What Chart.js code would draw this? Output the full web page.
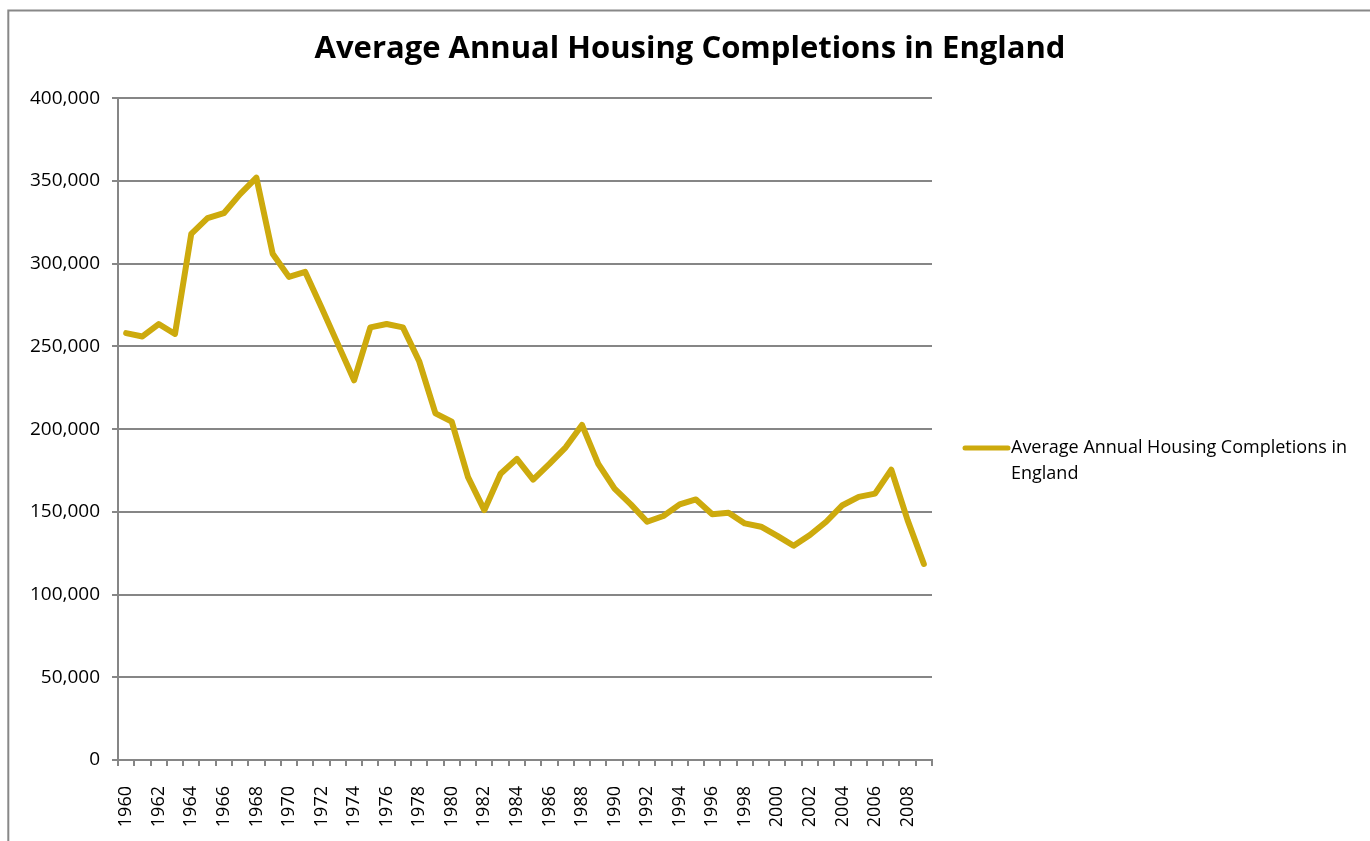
<!DOCTYPE html>
<html>
<head>
<meta charset="utf-8">
<script src="https://cdn.jsdelivr.net/npm/chart.js@4.4.0/dist/chart.umd.min.js"></script>
<style>
  html, body { margin: 0; padding: 0; background: #fff; overflow: hidden; }
  canvas { display: block; }
</style>
</head>
<body>
<canvas id="c" width="1370" height="841"></canvas>
<script>
// Completed dwellings per year, England
const years = [
  '1960','1961','1962','1963','1964','1965','1966','1967','1968','1969',
  '1970','1971','1972','1973','1974','1975','1976','1977','1978','1979',
  '1980','1981','1982','1983','1984','1985','1986','1987','1988','1989',
  '1990','1991','1992','1993','1994','1995','1996','1997','1998','1999',
  '2000','2001','2002','2003','2004','2005','2006','2007','2008','2009'
];
const completions = [
  258000, 256000, 263500, 257500, 318000, 327500, 330500, 342000, 352000, 306000,
  292000, 295000, 273500, 251500, 229500, 261500, 263500, 261500, 241000, 209500,
  204500, 171000, 151000, 173000, 182000, 169500, 179000, 189000, 202500, 179000,
  164000, 154500, 144000, 147500, 154500, 157500, 148500, 149500, 143000, 141000,
  135500, 129500, 136000, 144000, 154000, 159000, 161000, 175500, 145000, 118500
];
const yMin = 0;
const yMax = 400000;
const yStep = 50000;
const chartTitle = 'Average Annual Housing Completions in England';
const seriesName = 'Average Annual Housing Completions in England';
const legendLines = ['Average Annual Housing Completions in', 'England'];

const lineColor = '#CDAA0D';
const axisColor = '#868686';
const fontFamily = "'Open Sans', 'Liberation Sans', sans-serif";

// Outer chart frame (left and top edges)
const framePlugin = {
  id: 'frame',
  beforeDraw(chart) {
    const ctx = chart.ctx;
    ctx.save();
    ctx.fillStyle = '#fff';
    ctx.fillRect(0, 0, chart.width, chart.height);
    ctx.strokeStyle = '#888';
    ctx.lineWidth = 2;
    ctx.beginPath();
    ctx.moveTo(8.3, chart.height);
    ctx.lineTo(8.3, 10.5);
    ctx.lineTo(chart.width, 10.5);
    ctx.stroke();
    ctx.restore();
  }
};

// Legend on the right, with the series name wrapped over two lines
const sideLegend = {
  id: 'sideLegend',
  afterDraw(chart) {
    const ds = chart.data.datasets[0];
    const area = chart.chartArea;
    const ctx = chart.ctx;
    const x0 = area.right + 31;
    const yc = (area.top + area.bottom) / 2 + 19;
    ctx.save();
    ctx.strokeStyle = ds.borderColor;
    ctx.lineWidth = 5;
    ctx.lineCap = 'round';
    ctx.beginPath();
    ctx.moveTo(x0 + 2, yc);
    ctx.lineTo(x0 + 45, yc);
    ctx.stroke();
    ctx.fillStyle = '#000';
    ctx.font = '18px ' + fontFamily;
    ctx.textBaseline = 'middle';
    ctx.textAlign = 'left';
    legendLines.forEach((t, i) => ctx.fillText(t, x0 + 48, yc + i * 26));
    ctx.restore();
  }
};

new Chart(document.getElementById('c'), {
  type: 'line',
  data: {
    labels: years,
    datasets: [{
      label: seriesName,
      data: completions,
      borderColor: lineColor,
      backgroundColor: lineColor,
      borderWidth: 6,
      borderJoinStyle: 'round',
      borderCapStyle: 'round',
      tension: 0,
      pointRadius: 0,
      fill: false
    }]
  },
  options: {
    responsive: false,
    animation: false,
    devicePixelRatio: 1,
    layout: { padding: { left: 10, right: 0, top: 0, bottom: 0 } },
    plugins: {
      legend: { display: false },
      tooltip: { enabled: false },
      title: {
        display: true,
        text: chartTitle,
        color: '#000',
        font: { family: fontFamily, size: 31, weight: 'bold' },
        padding: { top: 31, bottom: 30 }
      }
    },
    scales: {
      x: {
        type: 'category',
        offset: true,
        grid: {
          offset: true,
          drawOnChartArea: false,
          drawTicks: true,
          tickLength: 6,
          color: axisColor,
          lineWidth: 2
        },
        border: { display: true, color: axisColor, width: 2 },
        ticks: {
          autoSkip: false,
          minRotation: 90,
          maxRotation: 90,
          padding: 20,
          color: '#000',
          font: { family: fontFamily, size: 18 },
          callback: (v, i) => (i % 2 === 0 ? years[i] : '')
        },
        afterFit(s) { s.height = 81; }
      },
      y: {
        min: yMin,
        max: yMax,
        grid: { color: axisColor, lineWidth: 2, drawTicks: true, tickLength: 6 },
        border: { display: true, color: axisColor, width: 2 },
        ticks: {
          stepSize: yStep,
          padding: 12,
          color: '#000',
          font: { family: fontFamily, size: 19 },
          callback: v => v.toLocaleString('en-US')
        },
        afterFit(s) { s.width = 108; }
      },
      legendSpace: {
        type: 'linear',
        position: 'right',
        display: true,
        grid: { display: false, drawTicks: false },
        border: { display: false },
        ticks: { display: false },
        afterFit(s) { s.width = 438; }
      }
    }
  },
  plugins: [framePlugin, sideLegend]
});
</script>
</body>
</html>
